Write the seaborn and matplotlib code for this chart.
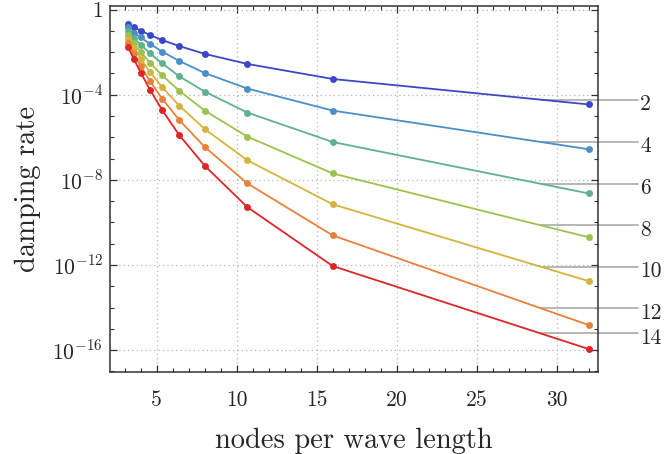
import numpy as np
import pandas as pd
import seaborn as sns
import matplotlib
matplotlib.use("Agg")
import matplotlib.pyplot as plt
from matplotlib.ticker import FixedLocator, NullFormatter
from matplotlib.transforms import offset_copy

# ---- data ----
nodes = [3.2, 3.556, 4.0, 4.571, 5.333, 6.4, 8.0, 10.667, 16.0, 32.0]
orders = [2, 4, 6, 8, 10, 12, 14]
rate_2 = [0.219, 0.151, 0.102, 0.0646, 0.0372, 0.0195, 8.3e-3, 2.8e-3, 5.5e-4, 3.5e-5]
rate_4 = [0.145, 0.083, 0.050, 0.0245, 0.0107, 3.9e-3, 1.05e-3, 1.95e-4, 1.8e-5, 2.75e-7]
rate_6 = [0.0955, 0.0457, 0.0229, 8.9e-3, 3.0e-3, 7.4e-4, 1.4e-4, 1.45e-5, 6.0e-7, 2.3e-9]
rate_8 = [0.063, 0.0269, 0.0102, 3.2e-3, 8.3e-4, 1.55e-4, 1.8e-5, 1.07e-6, 2.0e-8, 2.0e-11]
rate_10 = [0.0417, 0.0155, 4.8e-3, 1.2e-3, 2.3e-4, 3.1e-5, 2.45e-6, 8.3e-8, 7.1e-10, 1.74e-13]
rate_12 = [0.0269, 8.7e-3, 2.24e-3, 4.5e-4, 6.6e-5, 6.6e-6, 3.5e-7, 6.8e-9, 2.45e-11, 1.5e-15]
rate_14 = [0.0174, 5.0e-3, 1.1e-3, 1.74e-4, 1.95e-5, 1.29e-6, 4.6e-8, 5.2e-10, 8.9e-13, 1.12e-16]
rates = [rate_2, rate_4, rate_6, rate_8, rate_10, rate_12, rate_14]

xtick_values = [5, 10, 15, 20, 25, 30]
xtick_labels = ["5", "10", "15", "20", "25", "30"]
ytick_values = [1, 1e-4, 1e-8, 1e-12, 1e-16]
ytick_labels = ["$1$", "$10^{-4}$", "$10^{-8}$", "$10^{-12}$", "$10^{-16}$"]
label_x = 29.0  # where the label leader lines leave the curves

colors = ["#3b47c8", "#4a8fc9", "#5fb28c", "#9cc24e", "#d4b43c", "#e8813a", "#dd2626"]

df = pd.DataFrame({
    "nodes": np.tile(nodes, len(orders)),
    "rate": np.concatenate(rates),
    "order": np.repeat(orders, len(nodes)),
})

# ---- style ----
sns.set_theme(style="ticks")
plt.rcParams["font.family"] = ["cmr10", "DejaVu Serif"]
plt.rcParams["mathtext.fontset"] = "cm"
plt.rcParams["axes.formatter.use_mathtext"] = True

fig = plt.figure(figsize=(6.64, 4.54), dpi=100)
ax = fig.add_axes([110 / 664, 1 - 372 / 454, 488 / 664, 366 / 454])

sns.lineplot(data=df, x="nodes", y="rate", hue="order", palette=colors,
             marker="o", markersize=5, markeredgewidth=0, linewidth=1.3,
             legend=False, ax=ax, zorder=3)

ax.set_yscale("log")
ax.set_xlim(2.08, 32.58)
ax.set_ylim(10 ** -17.03, 10 ** 0.17)

ax.set_xticks(xtick_values)
ax.set_xticklabels(xtick_labels)
ax.xaxis.set_minor_locator(FixedLocator(np.arange(3, 33, 1)))
ax.set_yticks(ytick_values)
ax.set_yticklabels(ytick_labels)
ax.yaxis.set_minor_locator(FixedLocator([10.0 ** k for k in range(-17, 1)]))
ax.yaxis.set_minor_formatter(NullFormatter())

ax.tick_params(which="both", direction="in", top=True, right=True,
               color="#333333", labelsize=15.5)
ax.tick_params(which="major", length=5, width=0.9)
ax.tick_params(axis="y", which="major", pad=5)
ax.tick_params(axis="x", which="major", pad=13)
ax.tick_params(which="minor", length=3, width=0.8)
for s in ax.spines.values():
    s.set_color("#333333")
    s.set_linewidth(1.1)

ax.grid(True, which="major", linestyle=(0, (1, 2.5)), color="#b5b5b5", linewidth=0.9)
ax.set_axisbelow(True)

ax.set_xlabel("nodes per wave length", fontsize=20.5, labelpad=13)
ax.set_ylabel("damping rate", fontsize=20.5, labelpad=8)

# ---- leader lines with order labels ----
for order, r in zip(orders, rates):
    ly = 10 ** np.interp(label_x, nodes, np.log10(r))
    ax.plot([label_x, 35.05], [ly, ly], color="#aaaaaa", linewidth=1.2,
            clip_on=False, zorder=2)
    tr = offset_copy(ax.transData, fig=fig, x=2.5, y=-4.5, units="dots")
    ax.text(35.05, ly, str(order), transform=tr, fontsize=15.5,
            ha="left", va="center", clip_on=False)

fig.savefig("out.png", dpi=100)
